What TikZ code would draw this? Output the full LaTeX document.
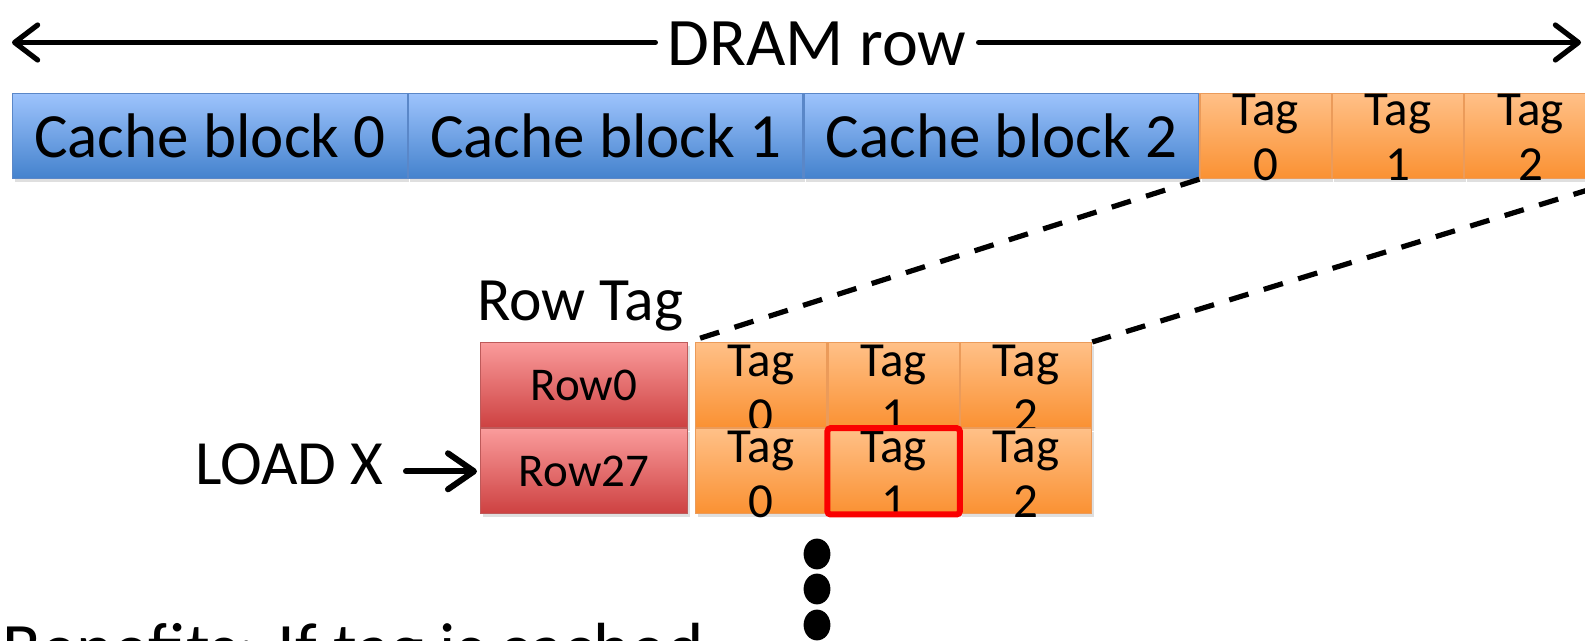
\documentclass[tikz,border=0pt]{standalone}
\usepackage{fontspec}
\setmainfont{Carlito}
\usetikzlibrary{arrows.meta,shadows,fit}
\definecolor{bluetop}{RGB}{157,195,252}
\definecolor{bluebot}{RGB}{68,130,205}
\definecolor{blueln}{RGB}{90,135,200}
\definecolor{ortop}{RGB}{255,192,135}
\definecolor{orbot}{RGB}{250,145,50}
\definecolor{orln}{RGB}{235,155,90}
\definecolor{redtop}{RGB}{250,155,155}
\definecolor{redbot}{RGB}{205,65,65}
\definecolor{redln}{RGB}{190,90,90}
\definecolor{hlred}{RGB}{250,0,0}
\tikzset{
 cell/.style={draw, line width=0.6pt, minimum height=42.5pt, inner sep=0pt, anchor=north west,
   drop shadow={opacity=0.25, shadow xshift=1pt, shadow yshift=-1.5pt}},
 bluecell/.style={cell, draw=blueln, top color=bluetop, bottom color=bluebot, minimum width=197.3pt,
   font=\fontsize{31.5}{36}\selectfont},
 orcell/.style={cell, draw=orln, top color=ortop, bottom color=orbot, minimum width=65.6pt},
 redcell/.style={cell, draw=redln, top color=redtop, bottom color=redbot, minimum width=103.5pt,
   font=\fontsize{23.5}{27}\selectfont},
 tagtxt/.style={align=center, inner sep=0pt, font=\fontsize{24.5}{27.5}\selectfont},
 bigtext/.style={inner sep=0pt, font=\fontsize{31.5}{36}\selectfont},
 arr/.style={line width=2.6pt, line cap=round, -{Straight Barb[length=11.5pt,width=17.5pt,line cap=round,line join=round]}},
 arrb/.style={line width=3pt, line cap=round, -{Straight Barb[length=13pt,width=18pt,line cap=round,line join=round]}},
 dashline/.style={line width=2.6pt, dash pattern=on 10pt off 8pt},
 hlbox/.style={draw=hlred, line width=3pt, inner sep=0pt, rounded corners=1.5pt},
}
\begin{document}
\begin{tikzpicture}[x=0.5pt,y=-0.5pt]
\useasboundingbox (0,0) rectangle (1585,641);
\clip (0,0) rectangle (1585,641);
% top arrow
\node[bigtext, inner xsep=6pt, anchor=base, font=\fontsize{34}{40}\selectfont] (dram) at (817,66) {DRAM row};
\coordinate (aL) at (12,42.5);
\coordinate (aR) at (1581,42.5);
\draw[arr] (dram.west |- aL) -- (aL);
\draw[arr] (dram.east |- aR) -- (aR);
% DRAM row blocks
\node[bluecell] (cb0) at (12,93) {Cache block 0};
\node[bluecell] (cb1) at (cb0.north east) {Cache block 1};
\node[bluecell] (cb2) at (cb1.north east) {Cache block 2};
\node[orcell] (t0) at (cb2.north east) {};
\node[orcell] (t1) at (t0.north east) {};
\node[orcell] (t2) at (t1.north east) {};
\node[tagtxt] at ([yshift=-0.5pt]t0.center) {Tag\\0};
\node[tagtxt] at ([yshift=-0.5pt]t1.center) {Tag\\1};
\node[tagtxt] at ([yshift=-0.5pt]t2.center) {Tag\\2};
\coordinate (t2far) at (1627,178);
% row tag store
\node[bigtext, anchor=base west, font=\fontsize{30.8}{36}\selectfont] (rowtag) at (477,321) {Row Tag};
\node[redcell] (r0) at (480,342) {Row0};
\node[orcell] (g00) at (695,342) {};
\node[orcell] (g01) at (g00.north east) {};
\node[orcell] (g02) at (g01.north east) {};
\node[tagtxt] at ([yshift=-1.5pt]g00.center) {Tag\\0};
\node[tagtxt] at ([yshift=-1.5pt]g01.center) {Tag\\1};
\node[tagtxt] at ([yshift=-1.5pt]g02.center) {Tag\\2};
\node[redcell] (r27) at (r0.south west) {Row27};
\node[orcell] (g10) at (g00.south west) {};
\node[orcell] (g11) at (g10.north east) {};
\node[orcell] (g12) at (g11.north east) {};
\node[tagtxt] at ([yshift=-1.5pt]g10.center) {Tag\\0};
\node[tagtxt] at ([yshift=-1.5pt]g11.center) {Tag\\1};
\node[tagtxt] at ([yshift=-1.5pt]g12.center) {Tag\\2};
\node[hlbox, fit=(g11)] (hit) {};
% dashed zoom lines
\draw[dashline] (t0.south west) -- (r0.north east);
\draw[dashline] (t2far) -- (g02.north east);
% load
\node[bigtext, anchor=base east] (load) at (384,485) {LOAD X};
\draw[arrb, shorten <=11pt, shorten >=1.5pt] (load.east |- r27.west) -- (r27.west);
% dots
\fill (817,554) ellipse [x radius=6.7pt, y radius=7.7pt];
\fill (817,589) ellipse [x radius=6.7pt, y radius=7.7pt];
\fill (817,625) ellipse [x radius=6.7pt, y radius=7.7pt];
% benefits
\node[bigtext, anchor=base west, font=\fontsize{35.5}{42}\selectfont] (ben) at (2,672) {Benefits: If tag is cached};
\end{tikzpicture}
\end{document}
